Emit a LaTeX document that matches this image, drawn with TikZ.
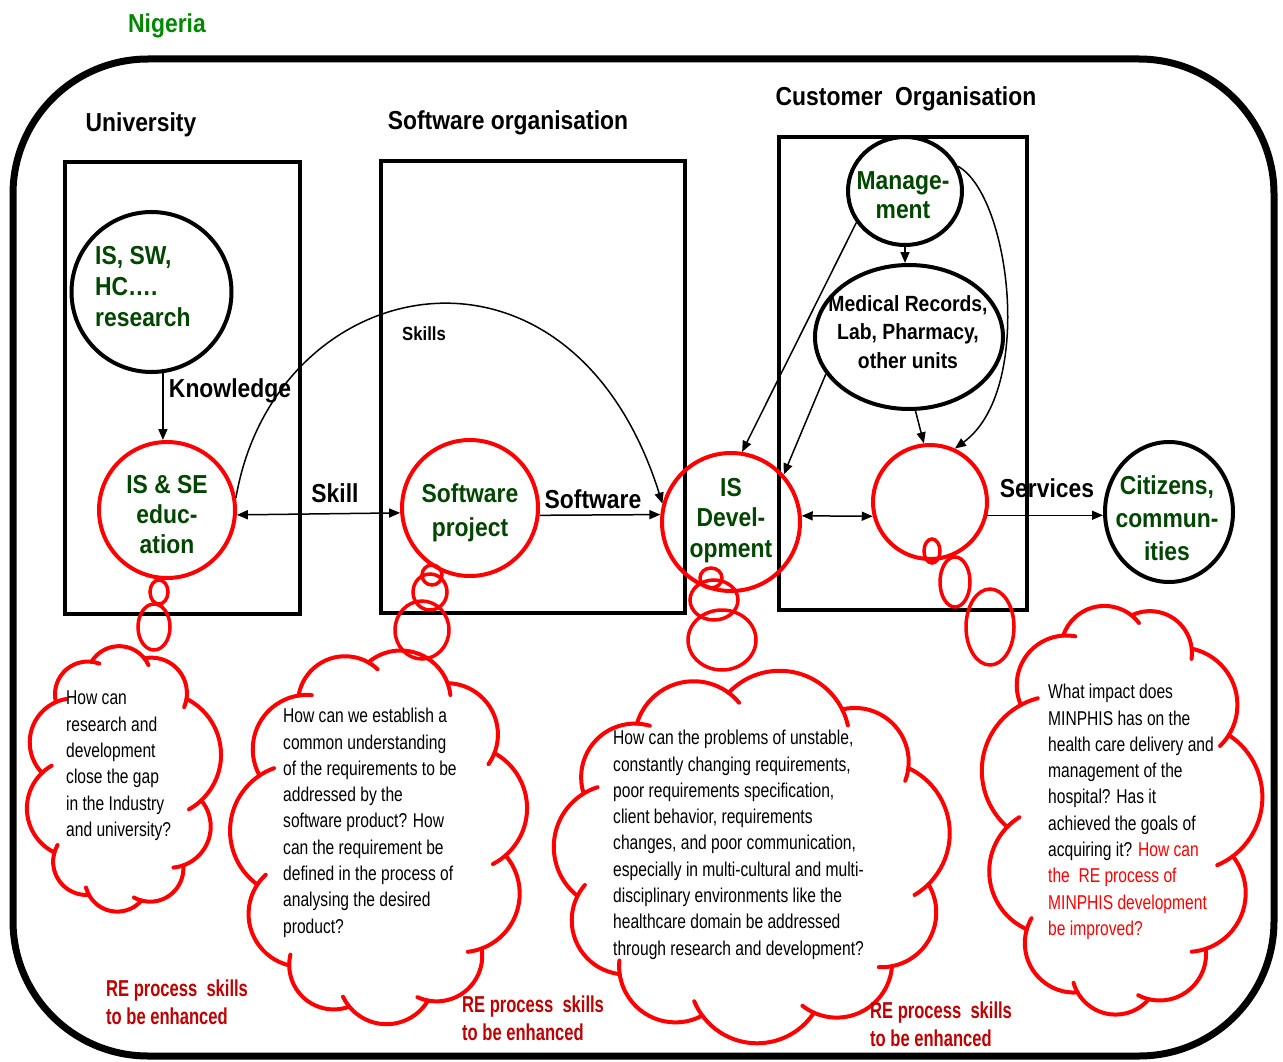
\documentclass[tikz,border=0pt]{standalone}
\usepackage{fontspec}
\setmainfont{Liberation Sans}
\newfontfamily\condf[FakeStretch=0.88]{Liberation Sans}
\newfontfamily\narr[FakeStretch=0.78]{Liberation Sans}
\newfontfamily\narrb[FakeStretch=0.72]{Liberation Sans}
\usetikzlibrary{shapes.geometric,arrows.meta}
\definecolor{dg}{RGB}{0,70,0}
\definecolor{ng}{RGB}{0,135,0}
\definecolor{dr}{RGB}{190,0,0}
\tikzset{
 box/.style={draw, line width=4.5pt},
 bcirc/.style={draw, circle, line width=4pt, inner sep=0},
 rcirc/.style={draw=red, circle, line width=4pt, inner sep=0},
 bell/.style={draw, ellipse, line width=4pt, inner sep=0},
 bub/.style={draw=red, line width=3.5pt},
 cloudline/.style={draw=red, line width=4pt, line cap=round},
 arr/.style={line width=1.5pt, -{Triangle[length=11pt,width=9pt]}},
 darr/.style={line width=1.5pt, {Triangle[length=11pt,width=9pt]}-{Triangle[length=11pt,width=9pt]}},
 lbl/.style={font=\condf\bfseries\fontsize{26}{30}\selectfont, inner sep=0, anchor=base},
 ntext/.style={font=\condf\bfseries\fontsize{26}{30}\selectfont, text=dg, inner sep=0, align=center, anchor=north},
 ctext/.style={font=\narr\fontsize{20}{26.3}\selectfont, inner sep=0, align=left, anchor=north west},
 retext/.style={font=\narrb\bfseries\fontsize{23}{28}\selectfont, text=dr, inner sep=0, align=left, anchor=north west},
}
% cloud: centre x, centre y, inner radii a, b, list of puff angle pairs
\def\cpw{0.9}
\def\phw{55}
\def\hook{14}
\newcommand{\mycloud}[5]{%
 \begin{scope}[shift={(#1,#2)}]
 \foreach \ta/\tb in {#5} {
  \pgfmathsetmacro{\cxa}{#3*sign(cos(\ta))*pow(abs(cos(\ta))+0.0001,\cpw)}
  \pgfmathsetmacro{\cya}{#4*sign(sin(\ta))*pow(abs(sin(\ta))+0.0001,\cpw)}
  \pgfmathsetmacro{\cxb}{#3*sign(cos(\tb))*pow(abs(cos(\tb))+0.0001,\cpw)}
  \pgfmathsetmacro{\cyb}{#4*sign(sin(\tb))*pow(abs(sin(\tb))+0.0001,\cpw)}
  \pgfmathsetmacro{\cmx}{(\cxa+\cxb)/2}
  \pgfmathsetmacro{\cmy}{(\cya+\cyb)/2}
  \pgfmathsetmacro{\chl}{veclen(\cxb-\cxa,\cyb-\cya)/2}
  \pgfmathsetmacro{\css}{atan2(\cya-\cmy,\cxa-\cmx)}
  \pgfmathsetmacro{\crr}{\chl/sin(\phw)}
  \pgfmathsetmacro{\ccx}{\cmx-\crr*cos(\phw)*cos(\css+90)}
  \pgfmathsetmacro{\ccy}{\cmy-\crr*cos(\phw)*sin(\css+90)}
  \draw[cloudline] (\ccx,\ccy) ++(\css+90-\phw:\crr) arc[start angle=\css+90-\phw, end angle=\css+90+\phw+\hook, radius=\crr];
 }
 \end{scope}}
\begin{document}
\begin{tikzpicture}[x=1pt,y=-1pt]
\useasboundingbox (0,0) rectangle (1283,1062);
% frame
\draw[line width=7pt, rounded corners=135pt] (13,59) rectangle (1274,1056);
\node[font=\condf\bfseries\fontsize{26}{30}\selectfont, text=ng, anchor=base, inner sep=0] (nig) at (167,33) {Nigeria};
% boxes
\draw[box] (65,162) rectangle (300,614);
\draw[box] (381,161) rectangle (685,613);
\draw[box] (779,137) rectangle (1027,610);
\node[lbl] (tuni) at (141,132) {University};
\node[lbl] (tsw) at (508,130) {Software organisation};
\node[lbl] (tcu) at (906,106) {Customer\ \ Organisation};
% circles
\node[bcirc, minimum size=160pt] (res) at (151.5,292) {};
\node[rcirc, minimum size=136pt] (edu) at (167,510) {};
\node[rcirc, minimum size=136pt] (sp) at (470,508) {};
\node[rcirc, minimum size=138pt] (isd) at (731,522) {};
\node[bell, minimum width=114pt, minimum height=108pt] (mg) at (905,191) {};
\node[bell, minimum width=188pt, minimum height=144pt] (med) at (909,337) {};
\node[rcirc, minimum size=114pt] (emp) at (930,502) {};
\node[bell, minimum width=128pt, minimum height=140pt] (cit) at (1169,512) {};
% bubbles
\draw[bub] (159,592) ellipse (9 and 12);
\draw[bub] (154,627) ellipse (16 and 23);
\draw[bub] (432,575) ellipse (10 and 10);
\draw[bub] (430,592) ellipse (17 and 18);
\draw[bub] (422,630) ellipse (27 and 29);
\draw[bub] (711,578) ellipse (11 and 10);
\draw[bub] (714,600) ellipse (24 and 20);
\draw[bub] (722,640) ellipse (34 and 30);
\draw[bub] (932,551) ellipse (8 and 12);
\draw[bub] (955,582) ellipse (15 and 25);
\draw[bub] (990,627) ellipse (24 and 38);
% clouds
\mycloud{122}{779}{80}{124}{8/42,42/78,78/112,112/146,146/182,182/216,216/250,250/284,284/322,322/368}
\mycloud{380}{836}{126}{174}{5/38,38/70,70/102,102/134,134/166,166/198,198/232,232/266,266/300,300/334,334/365}
\mycloud{752}{856}{178}{164}{8/40,40/72,72/104,104/136,136/168,168/200,200/232,232/264,264/298,298/330,330/368}
\mycloud{1121}{809}{114}{194}{12/44,44/78,78/110,110/144,144/176,176/210,210/242,242/274,274/306,306/340,340/372}
% connectors
\draw[arr] (res.-82) -- (res.-82 |- edu.north);
\draw[darr] (edu.-4) -- (sp.184);
\draw[arr] (sp.-6) -- (isd.174);
\draw[arr] (edu.10) .. controls (275,270) and (570,210) .. (isd.165);
\draw[arr] (mg.213) -- (isd.81);
\draw[arr] (mg.south) -- (mg.south |- med.north);
\draw[arr] (mg.25) .. controls (1010,195) and (1035,390) .. (emp.65);
\draw[arr] (med.204) -- (isd.42);
\draw[arr] (med.-85) -- (emp.96);
\draw[darr] (isd.5) -- (emp.194);
\draw[arr] (emp.-13) -- (emp.-13 -| cit.west);
% labels
\node[lbl] (lk) at (230,397) {Knowledge};
\node[lbl] (ls) at (335,502) {Skill};
\node[lbl] (lsw) at (593,508) {Software};
\node[lbl, font=\condf\bfseries\fontsize{19}{22}\selectfont] (lss) at (424,340) {Skills};
\node[lbl] (lsv) at (1047,497) {Services};
% node texts
\node[ntext, align=left, anchor=north west, font=\condf\bfseries\fontsize{26}{31}\selectfont] (tres) at (95,246) {IS, SW,\\HC\dots.\\research};
\node[ntext] (tedu) at (167,475) {IS \& SE\\educ-\\ation};
\node[ntext, font=\condf\bfseries\fontsize{26}{34}\selectfont] (tsp) at (470,483) {Software\\project};
\node[ntext, font=\condf\bfseries\fontsize{26}{30.5}\selectfont] (tisd) at (731,478) {IS\\Devel-\\opment};
\node[ntext, font=\condf\bfseries\fontsize{26}{29}\selectfont] (tmg) at (903,171) {Manage-\\ment};
\node[ntext, text=black, font=\condf\bfseries\fontsize{22}{28.5}\selectfont] (tmed) at (908,295) {Medical Records,\\Lab, Pharmacy,\\other units};
\node[ntext, font=\condf\bfseries\fontsize{26}{33}\selectfont] (tcit) at (1167,475) {Citizens,\\commun-\\ities};
% cloud texts
\node[ctext] (c1) at (66,691) {How can\\research and\\development\\close the gap\\in the Industry\\and university?};
\node[ctext] (c2) at (283,708) {How can we establish a\\common understanding\\of the requirements to be\\addressed by the\\software product? How\\can the requirement be\\defined in the process of\\analysing the desired\\product?};
\node[ctext] (c3) at (613,730) {How can the problems of unstable,\\constantly changing requirements,\\poor requirements specification,\\client behavior, requirements\\changes, and poor communication,\\especially in multi-cultural and multi-\\disciplinary environments like the\\healthcare domain be addressed\\through research and development?};
\node[ctext] (c4) at (1048,684) {What impact does\\MINPHIS has on the\\health care delivery and\\management of the\\hospital? Has it\\achieved the goals of\\acquiring it? \textcolor{red}{How can}\\\textcolor{red}{the\ \ RE process of}\\\textcolor{red}{MINPHIS development}\\\textcolor{red}{be improved?}};
% red labels
\node[retext] (r1) at (106,980) {RE process\ \ skills\\to be enhanced};
\node[retext] (r2) at (462,996) {RE process\ \ skills\\to be enhanced};
\node[retext] (r3) at (870,1002) {RE process\ \ skills\\to be enhanced};
\end{tikzpicture}
\end{document}
